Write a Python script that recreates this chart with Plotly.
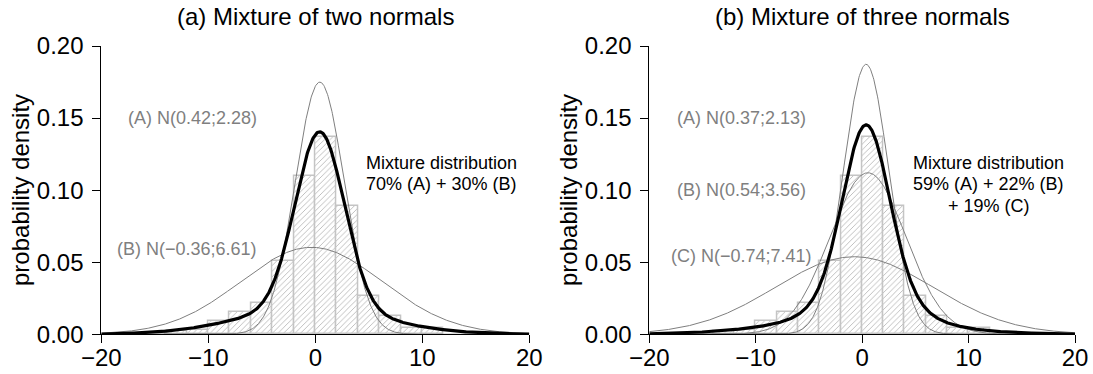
import numpy as np
import plotly.graph_objects as go

# ---------------- data ----------------
bin_left = [-14, -12, -10, -8, -6, -4, -2, 0, 2, 4, 6, 8, 10]
bin_width = 2
hist_density = [0.002, 0.003, 0.0095, 0.0152, 0.022, 0.051, 0.110,
                0.137, 0.0887, 0.0266, 0.0125, 0.0046, 0.0046]

# (a) mixture of two normals
a_means = [0.42, -0.36]
a_sds = [2.28, 6.61]
a_weights = [0.70, 0.30]
a_labels = ["(A) N(0.42;2.28)", "(B) N(\u22120.36;6.61)"]
a_mix_text = ["Mixture distribution", "70% (A) + 30% (B)"]

# (b) mixture of three normals
b_means = [0.37, 0.54, -0.74]
b_sds = [2.13, 3.56, 7.41]
b_weights = [0.59, 0.22, 0.19]
b_labels = ["(A) N(0.37;2.13)", "(B) N(0.54;3.56)", "(C) N(\u22120.74;7.41)"]
b_mix_text = ["Mixture distribution", "59% (A) + 22% (B)", "+ 19% (C)"]

titles = ["(a) Mixture of two normals", "(b) Mixture of three normals"]
x_tickvals = [-20, -10, 0, 10, 20]
x_ticktext = ["\u221220", "\u221210", "0", "10", "20"]
y_tickvals = [0.00, 0.05, 0.10, 0.15, 0.20]
y_ticktext = ["0.00", "0.05", "0.10", "0.15", "0.20"]
y_title = "probability density"

# ---------------- helpers ----------------
W, H = 1093, 374
FONT = "Liberation Sans, Arial, Helvetica, sans-serif"
GREY = "#7f7f7f"


def npdf(x, m, s):
    return np.exp(-0.5 * ((x - m) / s) ** 2) / (s * np.sqrt(2 * np.pi))


grid = np.linspace(-20, 20, 801)
bin_centers = [l + bin_width / 2 for l in bin_left]

fig = go.Figure()

panels = [
    dict(means=a_means, sds=a_sds, w=a_weights, xa="x", ya="y"),
    dict(means=b_means, sds=b_sds, w=b_weights, xa="x2", ya="y2"),
]

for p in panels:
    fig.add_trace(go.Bar(
        x=bin_centers, y=hist_density, width=[bin_width] * len(bin_left),
        xaxis=p["xa"], yaxis=p["ya"],
        marker=dict(color="white",
                    line=dict(color="#c4c4c4", width=1.5),
                    pattern=dict(shape="/", fgcolor="#b8b8b8", bgcolor="white",
                                 size=4, solidity=0.22, fillmode="replace")),
        showlegend=False, hoverinfo="skip"))
    mix = np.zeros_like(grid)
    for m, s, w in zip(p["means"], p["sds"], p["w"]):
        comp = npdf(grid, m, s)
        mix += w * comp
        fig.add_trace(go.Scatter(x=grid, y=comp, mode="lines",
                                 xaxis=p["xa"], yaxis=p["ya"],
                                 line=dict(color=GREY, width=1),
                                 showlegend=False, hoverinfo="skip"))
    fig.add_trace(go.Scatter(x=grid, y=mix, mode="lines",
                             xaxis=p["xa"], yaxis=p["ya"],
                             line=dict(color="black", width=3.2),
                             showlegend=False, hoverinfo="skip"))

# pixel -> paper
def px(x):
    return x / W


def py(y):
    return (H - y) / H


y_dom = [py(334.3), py(46)]
axis_common = dict(showgrid=False, zeroline=False, showline=True,
                   linecolor="black", linewidth=1, ticks="outside",
                   ticklen=8, tickwidth=1, tickcolor="black",
                   tickfont=dict(family=FONT, size=24, color="black"),
                   mirror=False, automargin=False)

fig.update_layout(
    width=W, height=H, autosize=False,
    margin=dict(l=0, r=0, t=0, b=0, pad=0, autoexpand=False),
    paper_bgcolor="white", plot_bgcolor="white",
    bargap=0, barmode="overlay",
    xaxis=dict(domain=[px(101.3), px(529.3)], range=[-20, 20],
               tickvals=x_tickvals, ticktext=x_ticktext, anchor="y",
               ticklabelstandoff=-6, **axis_common),
    yaxis=dict(domain=y_dom, range=[0, 0.2], tickvals=y_tickvals,
               ticktext=y_ticktext, anchor="x", ticklabelstandoff=4, **axis_common),
    xaxis2=dict(domain=[px(649.3), px(1075)], range=[-20, 20],
                tickvals=x_tickvals, ticktext=x_ticktext, anchor="y2",
                ticklabelstandoff=-6, **axis_common),
    yaxis2=dict(domain=y_dom, range=[0, 0.2], tickvals=y_tickvals,
                ticktext=y_ticktext, anchor="x2", ticklabelstandoff=4, **axis_common),
)

ann = []
# titles
for t, cx in zip(titles, [315.3, 862.2]):
    ann.append(dict(text=t, x=px(cx), y=py(17), xref="paper", yref="paper",
                    showarrow=False, xanchor="center", yanchor="middle",
                    font=dict(family=FONT, size=24, color="black")))
# y titles
for cx in [20, 568]:
    ann.append(dict(text=y_title, x=px(cx), y=py(190), xref="paper", yref="paper",
                    showarrow=False, textangle=-90, xanchor="center", yanchor="middle",
                    font=dict(family=FONT, size=24, color="black")))

# component labels
a_pos = [(-11.46, 0.150), (-11.97, 0.059)]
for lab, (x, y) in zip(a_labels, a_pos):
    ann.append(dict(text=lab, x=x, y=y, xref="x", yref="y", showarrow=False,
                    xanchor="center", yanchor="middle",
                    font=dict(family=FONT, size=18, color=GREY)))
b_pos = [(-11.35, 0.150), (-11.35, 0.100), (-11.35, 0.0546)]
for lab, (x, y) in zip(b_labels, b_pos):
    ann.append(dict(text=lab, x=x, y=y, xref="x2", yref="y2", showarrow=False,
                    xanchor="center", yanchor="middle",
                    font=dict(family=FONT, size=18, color=GREY)))

# mixture descriptions
for line, y in zip(a_mix_text, [0.1188, 0.1044]):
    ann.append(dict(text=line, x=11.84, y=y, xref="x", yref="y", showarrow=False,
                    xanchor="center", yanchor="middle",
                    font=dict(family=FONT, size=18, color="black")))
for line, y in zip(b_mix_text, [0.1188, 0.1044, 0.0893]):
    ann.append(dict(text=line, x=11.9, y=y, xref="x2", yref="y2", showarrow=False,
                    xanchor="center", yanchor="middle",
                    font=dict(family=FONT, size=18, color="black")))

fig.update_layout(annotations=ann)
fig.write_html("out.html")
